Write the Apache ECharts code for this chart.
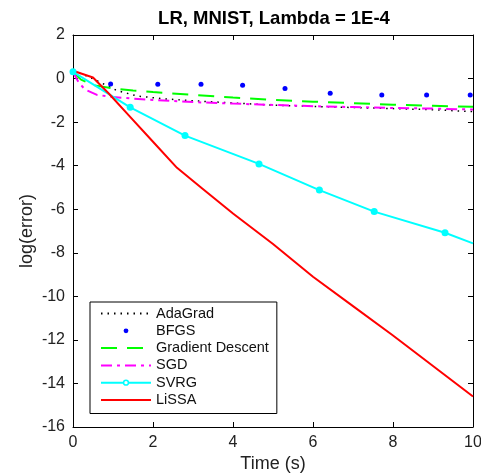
<!DOCTYPE html>
<html><head><meta charset="utf-8">
<script src="https://cdn.jsdelivr.net/npm/echarts@6/dist/echarts.min.js"></script>
<style>html,body{margin:0;padding:0;background:#fff}#c{width:481px;height:475px}</style>
</head><body><div id="c"></div>
<script>
const chartTitle = 'LR, MNIST, Lambda = 1E-4';
const seriesNames = ['AdaGrad', 'BFGS', 'Gradient Descent', 'SGD', 'SVRG', 'LiSSA'];

const adagradX = [0, 0.3, 0.6, 1.1, 1.6, 2.2, 3, 4, 5, 6, 7, 8, 9, 10];
const adagradY = [0.35, 0.15, -0.1, -0.55, -0.8, -0.92, -1.02, -1.12, -1.22, -1.28, -1.33, -1.38, -1.43, -1.52];

const bfgsX = [0, 0.94, 2.12, 3.2, 4.24, 5.3, 6.43, 7.72, 8.84, 9.93];
const bfgsY = [0.3, -0.25, -0.26, -0.26, -0.31, -0.46, -0.68, -0.75, -0.75, -0.75];

const gdX = [0, 0.2, 0.5, 1, 1.5, 2, 3, 4, 5, 6, 7, 8, 9, 10];
const gdY = [0.3, -0.05, -0.3, -0.45, -0.55, -0.62, -0.75, -0.87, -0.98, -1.06, -1.13, -1.2, -1.25, -1.3];

const sgdX = [0, 0.15, 0.3, 0.6, 1, 1.5, 2, 3, 4, 5, 6, 7, 8, 9, 10];
const sgdY = [0.3, -0.2, -0.5, -0.75, -0.85, -0.92, -0.98, -1.08, -1.15, -1.21, -1.27, -1.31, -1.35, -1.38, -1.42];

const svrgX = [0, 1.43, 2.8, 4.65, 6.16, 7.53, 9.3, 10];
const svrgY = [0.31, -1.32, -2.62, -3.92, -5.12, -6.11, -7.08, -7.57];

const lissaX = [0, 0.5, 0.9, 1.4, 2.0, 2.6, 3.2, 4, 5, 6, 7, 8, 9, 10];
const lissaY = [0.36, 0.05, -0.7, -1.7, -2.9, -4.1, -5.0, -6.2, -7.6, -9.1, -10.45, -11.8, -13.2, -14.6];

const xTicks = [0, 2, 4, 6, 8, 10];
const yTicks = [-16, -14, -12, -10, -8, -6, -4, -2, 0, 2];

function zip(xs, ys) { return xs.map((x, i) => [x, ys[i]]); }

const FONT = 'Liberation Sans';
const chart = echarts.init(document.getElementById('c'), null, {renderer: 'canvas'});

const baseAxisLine = {show: true, onZero: false, lineStyle: {color: '#000', width: 1}};
const tick = {show: true, inside: true, length: 5, lineStyle: {color: '#000'}};
const hideSym = {opacity: 0};

const option = {
  animation: false,
  backgroundColor: '#fff',
  textStyle: {fontFamily: FONT},
  title: {
    text: chartTitle, left: 269, top: 4, textAlign: 'center',
    textStyle: {fontFamily: FONT, fontSize: 18.5, fontWeight: 'bold', color: '#000'}
  },
  grid: {left: 73, right: 8, top: 35, bottom: 48, containLabel: false, outerBoundsMode: 'none'},
  legend: {
    orient: 'vertical', left: 90, top: 302,
    backgroundColor: '#fff', borderColor: '#000', borderWidth: 1,
    padding: [3, 8, 5, 10], itemWidth: 50, itemHeight: 6, itemGap: 0.3,
    textStyle: {fontFamily: FONT, fontSize: 14.5, color: '#111', lineHeight: 17},
    data: [
      {name: seriesNames[0], itemStyle: hideSym},
      {name: seriesNames[1]},
      {name: seriesNames[2], itemStyle: hideSym},
      {name: seriesNames[3], itemStyle: hideSym},
      {name: seriesNames[4], itemStyle: {color: '#fff', borderColor: '#00ffff', borderWidth: 1.5}},
      {name: seriesNames[5], itemStyle: hideSym}
    ]
  },
  xAxis: [{
    type: 'value', min: xTicks[0], max: xTicks[xTicks.length - 1], interval: 2,
    axisLine: baseAxisLine, axisTick: tick, splitLine: {show: false},
    axisLabel: {fontFamily: FONT, fontSize: 16, color: '#222', margin: 8},
    name: 'Time (s)', nameLocation: 'middle', nameGap: 28, nameMoveOverlap: false,
    nameTextStyle: {fontFamily: FONT, fontSize: 18, color: '#222'}
  }, {
    type: 'value', position: 'top', min: 0, max: 10, interval: 2,
    axisLine: baseAxisLine, axisTick: tick, splitLine: {show: false}, axisLabel: {show: false}
  }],
  yAxis: [{
    type: 'value', min: yTicks[0], max: yTicks[yTicks.length - 1], interval: 2,
    axisLine: baseAxisLine, axisTick: tick, splitLine: {show: false},
    axisLabel: {fontFamily: FONT, fontSize: 16, color: '#222', margin: 8},
    name: 'log(error)', nameLocation: 'middle', nameGap: 37, nameMoveOverlap: false,
    nameTextStyle: {fontFamily: FONT, fontSize: 18, color: '#222'}
  }, {
    type: 'value', position: 'right', min: -16, max: 2, interval: 2,
    axisLine: baseAxisLine, axisTick: tick, splitLine: {show: false}, axisLabel: {show: false}
  }],
  series: [
    {name: 'AdaGrad', type: 'line', data: zip(adagradX, adagradY), symbol: 'none',
     lineStyle: {color: '#000', width: 1.5, type: [1.5, 5]}, itemStyle: {color: '#000'}},
    {name: 'BFGS', type: 'line', data: zip(bfgsX, bfgsY), symbol: 'circle', symbolSize: 5,
     lineStyle: {width: 0, opacity: 0}, itemStyle: {color: '#0000ff'}},
    {name: 'Gradient Descent', type: 'line', data: zip(gdX, gdY), symbol: 'none',
     lineStyle: {color: '#00ff00', width: 2, type: [16, 10]}, itemStyle: {color: '#00ff00'}},
    {name: 'SGD', type: 'line', data: zip(sgdX, sgdY), symbol: 'none',
     lineStyle: {color: '#ff00ff', width: 2, type: [11, 5, 3, 5]}, itemStyle: {color: '#ff00ff'}},
    {name: 'SVRG', type: 'line', data: zip(svrgX, svrgY), symbol: 'circle',
     symbolSize: (v, p) => (p.dataIndex === svrgX.length - 1 ? 0 : 7),
     lineStyle: {color: '#00ffff', width: 2}, itemStyle: {color: '#00ffff'}},
    {name: 'LiSSA', type: 'line', data: zip(lissaX, lissaY), symbol: 'none',
     lineStyle: {color: '#ff0000', width: 2}, itemStyle: {color: '#ff0000'}}
  ]
};
chart.setOption(option);
</script>
</body></html>
